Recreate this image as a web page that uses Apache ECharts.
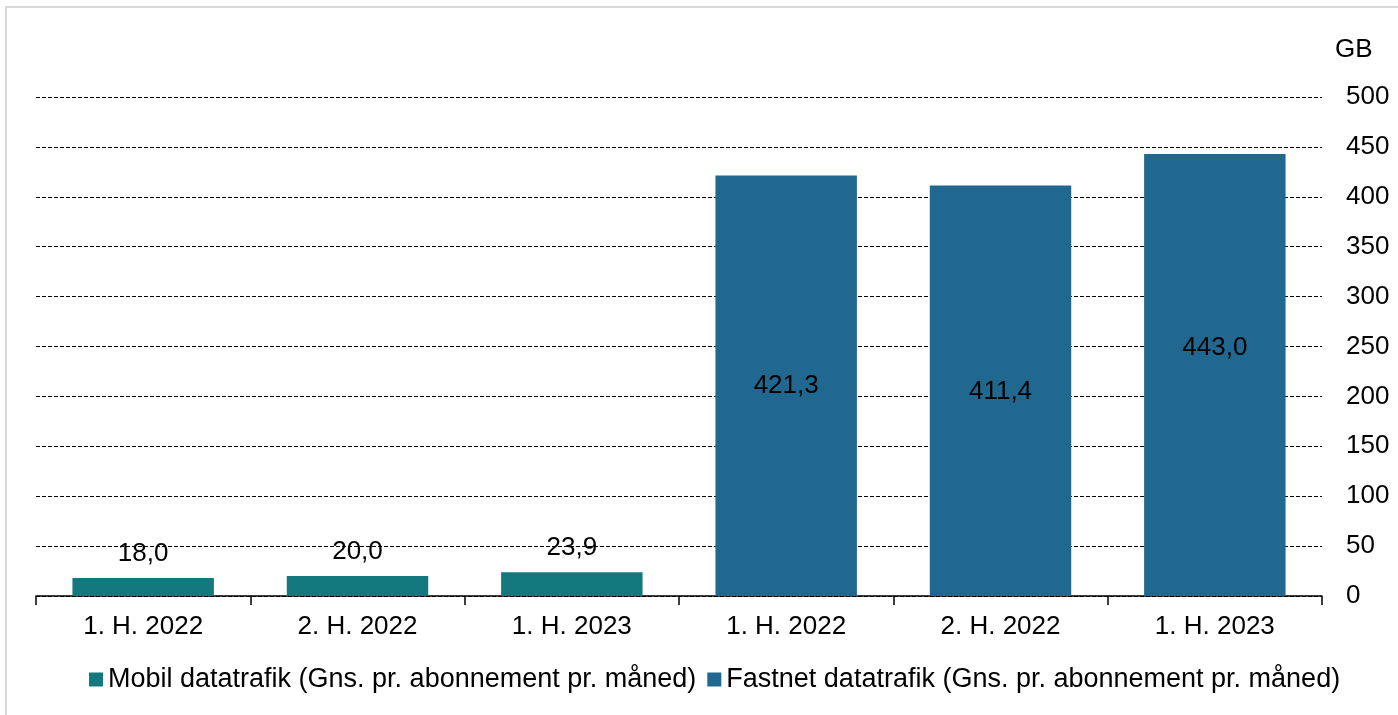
<!DOCTYPE html>
<html>
<head>
<meta charset="utf-8">
<script src="https://cdn.jsdelivr.net/npm/echarts@6/dist/echarts.min.js"></script>
<style>
  html, body { margin: 0; padding: 0; background: #fff; overflow: hidden; }
  #frame { position: absolute; left: 5px; top: 6px; width: 1400px; height: 720px;
           border-left: 2px solid #d9d9d9; border-top: 2px solid #d9d9d9; }
  #chart { position: absolute; left: 0; top: 0; width: 1398px; height: 715px; }
</style>
</head>
<body>
<div id="frame"></div>
<div id="chart"></div>
<script>
const categories = ['1. H. 2022', '2. H. 2022', '1. H. 2023', '1. H. 2022', '2. H. 2022', '1. H. 2023'];
const mobilValues = [18.0, 20.0, 23.9, null, null, null];
const fastnetValues = [null, null, null, 421.3, 411.4, 443.0];
const mobilName = 'Mobil datatrafik (Gns. pr. abonnement pr. måned)';
const fastnetName = 'Fastnet datatrafik (Gns. pr. abonnement pr. måned)';
const yTicks = [0, 50, 100, 150, 200, 250, 300, 350, 400, 450, 500];
const fastnetLabelOffsets = [0, 0, 0, 0, 1, -27];

const FONT = '"Liberation Sans", Arial, sans-serif';
const fmt = v => v.toFixed(1).replace('.', ',');

const chart = echarts.init(document.getElementById('chart'), null, { renderer: 'canvas' });
chart.setOption({
  animation: false,
  backgroundColor: 'transparent',
  textStyle: { fontFamily: FONT, color: '#000' },
  grid: { left: 36, right: 76, top: 97, bottom: 119, containLabel: false },
  legend: {
    top: 666,
    left: 89,
    padding: 0,
    itemWidth: 14,
    itemHeight: 14,
    itemGap: 11,
    icon: 'rect',
    textStyle: { fontFamily: FONT, fontSize: 27, color: '#000' },
    data: [mobilName, fastnetName]
  },
  xAxis: {
    type: 'category',
    data: categories,
    axisLine: { lineStyle: { color: '#000', width: 1.5 } },
    axisTick: { show: true, length: 9, lineStyle: { color: '#000', width: 1.5 } },
    axisLabel: { fontFamily: FONT, fontSize: 26, color: '#000', margin: 18 }
  },
  yAxis: {
    type: 'value',
    position: 'right',
    min: yTicks[0],
    max: yTicks[yTicks.length - 1],
    interval: 50,
    name: 'GB',
    nameLocation: 'end',
    nameGap: 34,
    nameTextStyle: { fontFamily: FONT, fontSize: 26, color: '#000', align: 'left', padding: [0, 0, 0, 13] },
    axisLine: { show: false },
    axisTick: { show: false },
    axisLabel: { fontFamily: FONT, fontSize: 26, color: '#000', align: 'left', margin: 24 },
    splitLine: { show: true, lineStyle: { color: '#000', type: [4, 2], width: 1 } }
  },
  series: [
    {
      name: mobilName,
      type: 'bar',
      stack: 'all',
      barWidth: '66%',
      data: mobilValues,
      itemStyle: { color: '#13797F' },
      label: { show: true, position: 'top', distance: 11, fontFamily: FONT, fontSize: 26, color: '#000',
               formatter: p => fmt(p.value) }
    },
    {
      name: fastnetName,
      type: 'bar',
      stack: 'all',
      barWidth: '66%',
      data: fastnetValues.map((v, i) => v == null ? null : {
        value: v,
        label: { offset: [0, fastnetLabelOffsets[i]] }
      }),
      itemStyle: { color: '#20688F' },
      label: { show: true, position: 'inside', fontFamily: FONT, fontSize: 26, color: '#000',
               formatter: p => fmt(p.value) }
    }
  ]
});
</script>
</body>
</html>
